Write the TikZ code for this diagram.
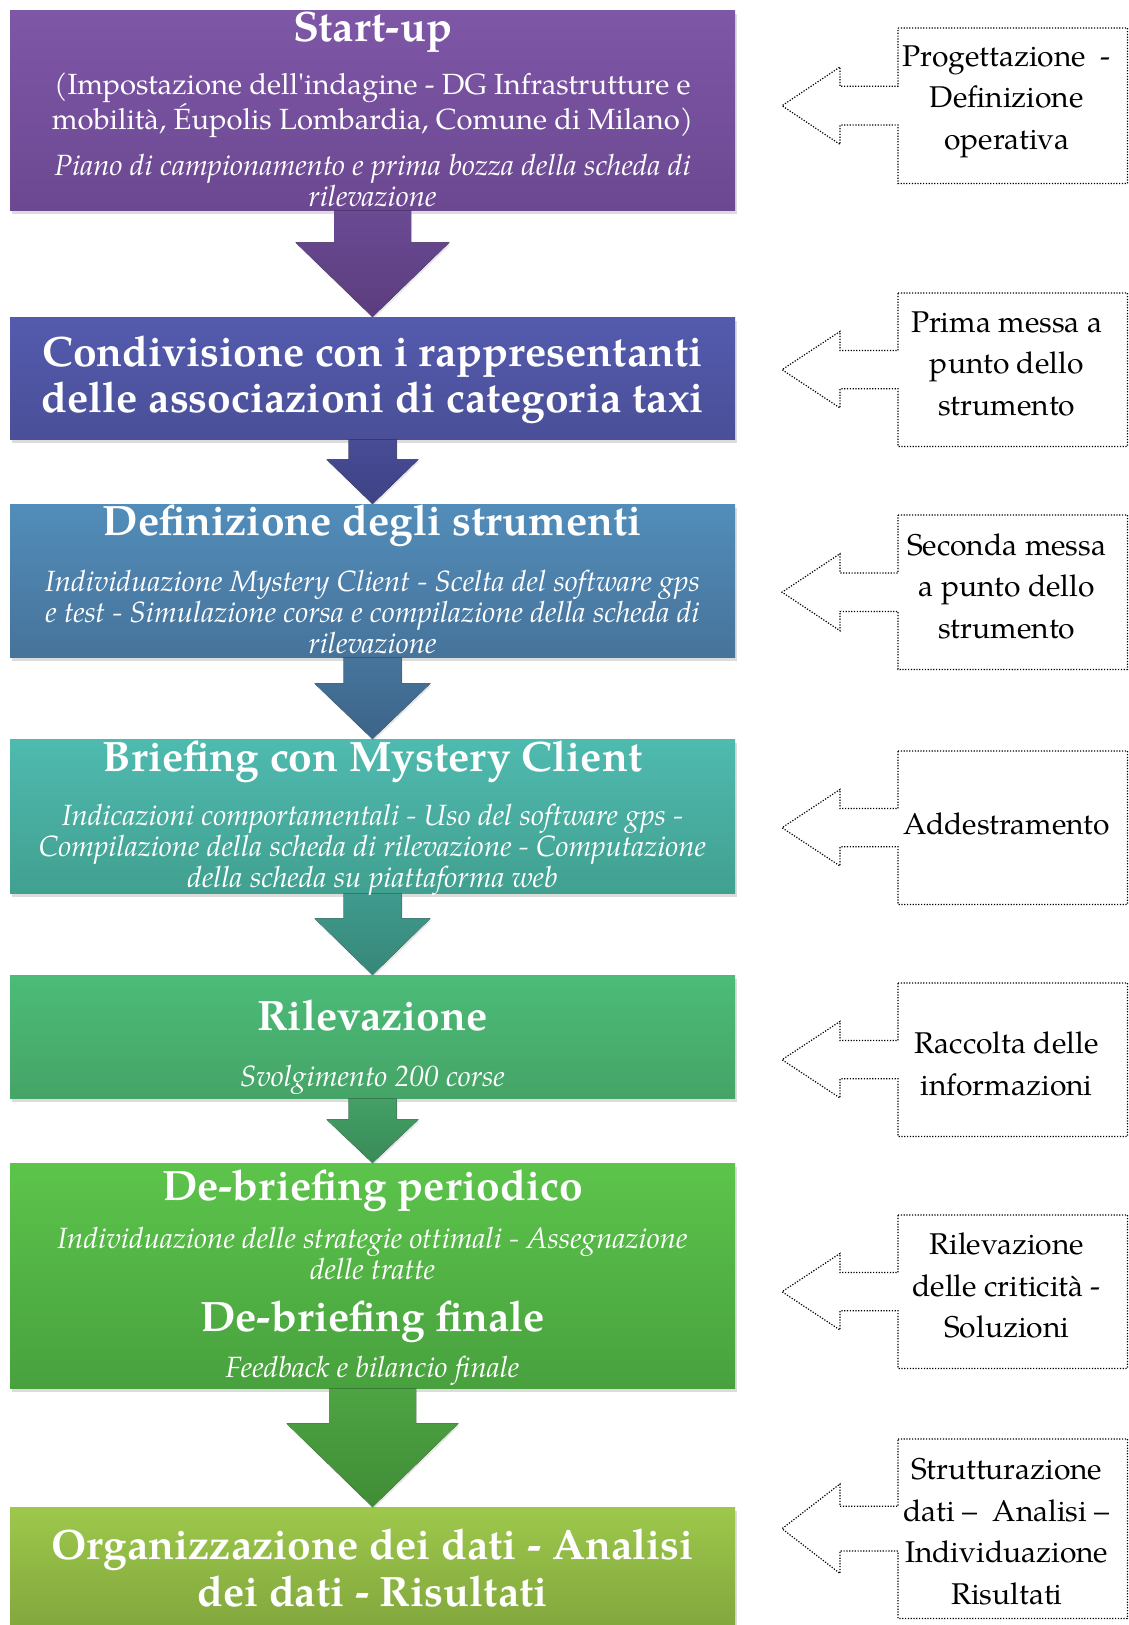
\documentclass[tikz,border=0pt]{standalone}
\usepackage{fontspec}
\setmainfont{TeX Gyre Pagella}[Ligatures=TeXOff]
\usetikzlibrary{calc,shadows}
\definecolor{bAt}{HTML}{7E57A7}\definecolor{bAb}{HTML}{6C4891}
\definecolor{aAt}{HTML}{6A4A93}\definecolor{aAb}{HTML}{5B3D7E}
\definecolor{bBt}{HTML}{545BAE}\definecolor{bBb}{HTML}{4A4F97}
\definecolor{aBt}{HTML}{474C95}\definecolor{aBb}{HTML}{3E4285}
\definecolor{bCt}{HTML}{528DBA}\definecolor{bCb}{HTML}{46739A}
\definecolor{aCt}{HTML}{46759C}\definecolor{aCb}{HTML}{3D6388}
\definecolor{bDt}{HTML}{4FBAAF}\definecolor{bDb}{HTML}{41A090}
\definecolor{aDt}{HTML}{3F9A8E}\definecolor{aDb}{HTML}{378778}
\definecolor{bEt}{HTML}{4CBC78}\definecolor{bEb}{HTML}{45A467}
\definecolor{aEt}{HTML}{43A066}\definecolor{aEb}{HTML}{3A8A57}
\definecolor{bFt}{HTML}{5CC44B}\definecolor{bFb}{HTML}{48A13E}
\definecolor{aFt}{HTML}{4DA442}\definecolor{aFb}{HTML}{418C37}
\definecolor{bGt}{HTML}{9DC84B}\definecolor{bGb}{HTML}{80A43C}
\tikzset{
  flowbox/.style={rectangle, inner sep=0pt, minimum width=725pt, draw=none,
    drop shadow={opacity=0.28, shadow xshift=1.5pt, shadow yshift=-4pt}},
  ttl/.style={text=white, font=\fontsize{42.5}{46.5}\selectfont\bfseries, align=center, inner sep=0pt},
  reg/.style={text=white, font=\fontsize{29.2}{31.5}\selectfont, align=center, inner sep=0pt},
  ita/.style={text=white, font=\fontsize{29.3}{31}\selectfont\itshape, align=center, inner sep=0pt},
  cobox/.style={rectangle, inner sep=0pt, minimum width=229pt, draw=none},
  cotext/.style={text=black, font=\fontsize{30}{41.5}\selectfont, align=center, inner sep=0pt},
  coline/.style={draw=black, line width=1.2pt, dash pattern=on 1.2pt off 1.6pt},
  flowarr/.style={draw=none, drop shadow={opacity=0.2, shadow xshift=1pt, shadow yshift=-2pt}}
}
\newcommand\flowarrow[7]{%
  \fill[flowarr, top color=#6, bottom color=#7]
    ($(#1.south)+(-#3,0)$) -- ($(#1.south)+(#3,0)$) -- ($(#1.south)+(#3,#5)$)
    -- ($(#1.south)+(#4,#5)$) -- (#2.north) -- ($(#1.south)+(-#4,#5)$)
    -- ($(#1.south)+(-#3,#5)$) -- cycle;}
\newcommand\mycallout[5]{%
  \pgfmathsetmacro\coH{#3-#2}%
  \pgfmathsetmacro\coS{0.125*\coH}%
  \pgfmathsetmacro\coA{0.25*\coH}%
  \node[cobox, minimum height=\coH pt, anchor=north west] (#1) at (898,#2) {};
  \draw[coline] (#1.north west) -- (#1.north east) -- (#1.south east) -- (#1.south west)
    -- ($(#1.west)+(0,\coS)$) -- ($(#1.west)+(-58,\coS)$) -- ($(#1.west)+(-58,\coA)$)
    -- ($(#1.west)+(-116,0)$) -- ($(#1.west)+(-58,-\coA)$) -- ($(#1.west)+(-58,-\coS)$)
    -- ($(#1.west)+(0,-\coS)$) -- cycle;
  \node[cotext] (#1t) at ($(#1.center)+(-6,#4)$) {#5};}
\begin{document}
\begin{tikzpicture}[x=1pt,y=-1pt]
\useasboundingbox (0,0) rectangle (1129,1625);
% boxes
\node[flowbox, minimum height=200pt, top color=bAt, bottom color=bAb, anchor=north] (b1) at (372.5,10) {};
\node[flowbox, minimum height=122pt, top color=bBt, bottom color=bBb, anchor=north] (b2) at (372.5,317) {};
\node[flowbox, minimum height=153pt, top color=bCt, bottom color=bCb, anchor=north] (b3) at (372.5,504) {};
\node[flowbox, minimum height=154pt, top color=bDt, bottom color=bDb, anchor=north] (b4) at (372.5,739) {};
\node[flowbox, minimum height=123pt, top color=bEt, bottom color=bEb, anchor=north] (b5) at (372.5,975) {};
\node[flowbox, minimum height=225pt, top color=bFt, bottom color=bFb, anchor=north] (b6) at (372.5,1163) {};
\node[flowbox, minimum height=130pt, top color=bGt, bottom color=bGb, anchor=north] (b7) at (372.5,1507) {};
% arrows
\flowarrow{b1}{b2}{38.5}{77}{32}{aAt}{aAb}
\flowarrow{b2}{b3}{24}{46}{20}{aBt}{aBb}
\flowarrow{b3}{b4}{29}{58}{26}{aCt}{aCb}
\flowarrow{b4}{b5}{29}{58}{25}{aDt}{aDb}
\flowarrow{b5}{b6}{24}{46}{21}{aEt}{aEb}
\flowarrow{b6}{b7}{43.5}{86}{35}{aFt}{aFb}
% texts
\node[ttl] (b1t) at (372.5,32) {Start-up};
\node[reg] (b1r) at (372.5,105) {(Impostazione dell'indagine - DG Infrastrutture e\\mobilità, Éupolis Lombardia, Comune di Milano)};
\node[ita] (b1i) at (372.5,180) {Piano di campionamento e prima bozza della scheda di\\rilevazione};
\node[ttl] (b2t) at (372.5,380) {Condivisione con i rappresentanti\\delle associazioni di categoria taxi};
\node[ttl] (b3t) at (372.5,526) {Definizione degli strumenti};
\node[ita] (b3i) at (372.5,612) {Individuazione Mystery Client - Scelta del software gps\\e test - Simulazione corsa e compilazione della scheda di\\rilevazione};
\node[ttl] (b4t) at (372.5,762) {Briefing con Mystery Client};
\node[ita] (b4i) at (372.5,850) {Indicazioni comportamentali - Uso del software gps -\\Compilazione della scheda di rilevazione - Computazione\\della scheda su piattaforma web};
\node[ttl] (b5t) at (372.5,1016) {Rilevazione};
\node[ita] (b5i) at (372.5,1080) {Svolgimento 200 corse};
\node[ttl] (b6t) at (372.5,1191) {De-briefing periodico};
\node[ita] (b6i) at (372.5,1253) {Individuazione delle strategie ottimali - Assegnazione\\delle tratte};
\node[ttl] (b6u) at (372.5,1322) {De-briefing finale};
\node[ita] (b6j) at (372.5,1371) {Feedback e bilancio finale};
\node[ttl] (b7t) at (372.5,1568) {Organizzazione dei dati - Analisi\\dei dati - Risultati};
% callouts
\mycallout{c1}{28}{183}{-4}{Progettazione\ \ -\\Definizione\\operativa}
\mycallout{c2}{293}{446}{-6}{Prima messa a\\punto dello\\strumento}
\mycallout{c3}{515}{669}{-6}{Seconda messa\\a punto dello\\strumento}
\mycallout{c4}{751}{904}{-4}{Addestramento}
\mycallout{c5}{983}{1136}{4}{Raccolta delle\\informazioni}
\mycallout{c6}{1215}{1368}{-6}{Rilevazione\\delle criticità -\\Soluzioni}
\mycallout{c7}{1439}{1618}{3}{Strutturazione\\dati –\ \ Analisi –\\Individuazione\\Risultati}
\end{tikzpicture}
\end{document}
